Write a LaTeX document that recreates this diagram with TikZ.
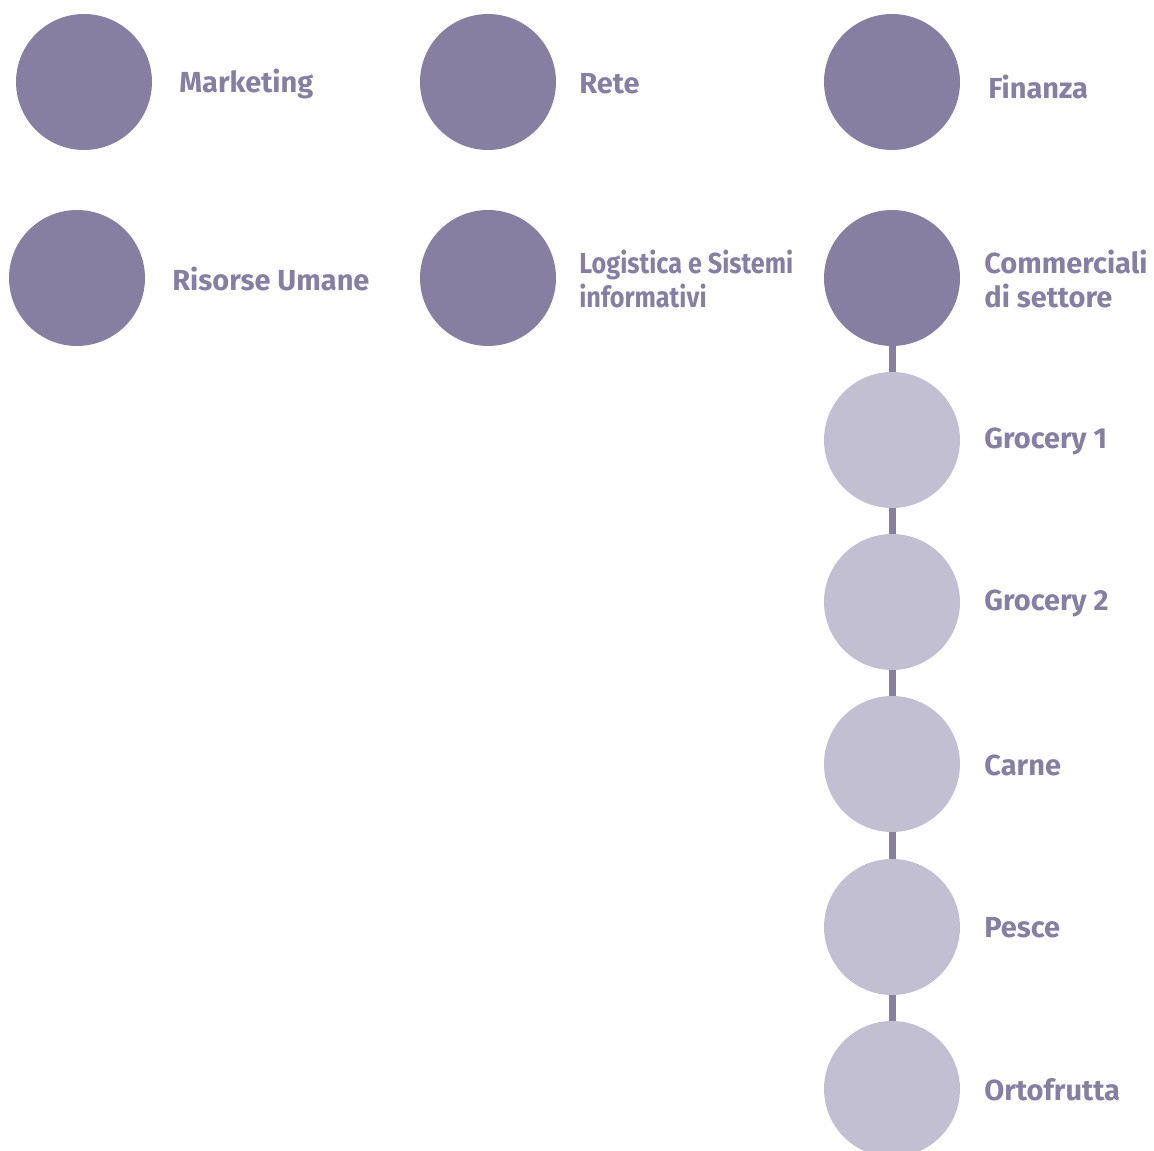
\documentclass[tikz,border=0pt]{standalone}
\usepackage{fontspec}
\setmainfont{Fira Sans}
\newfontfamily\narrowfont[FakeStretch=0.87]{Fira Sans}
\definecolor{areadark}{HTML}{877FA2}
\definecolor{arealight}{HTML}{C3BFD2}

\begin{document}
\begin{tikzpicture}[x = 0.02cm, y = -0.02cm, every node/.style = {inner sep = 0pt}, area/.style = {circle, minimum size = 2.72cm, fill = areadark}, sector/.style = {area, fill = arealight}, label text/.style = {anchor = west, align = left, text = areadark, font = \fontsize{16.5}{18.8}\selectfont\bfseries}]
        \useasboundingbox (0, 0) rectangle (1154, 1151);
        % first two rows
        \node[area] (marketing) at (84, 82) {};
        \node[area] (risorse) at (77, 278) {};
        \node[area] (rete) at (488, 82) {};
        \node[area] (logistica) at (488, 278) {};
        \node[area] (finanza) at (892, 82) {};
        % sectors hanging below
        \draw[areadark, line width = 7pt*0.02/0.0352] (892, 278) -- (892, 1089);
        \node[area] (commerciali) at (892, 278) {};
        \node[sector] (grocery1) at (892, 440) {};
        \node[sector] (grocery2) at (892, 602) {};
        \node[sector] (carne) at (892, 764) {};
        \node[sector] (pesce) at (892, 927) {};
        \node[sector] (ortofrutta) at (892, 1089) {};
        % texts
        \node[label text] (marketingtext) at (179, 84) {Marketing};
        \node[label text] (risorsetext) at (172, 279) {Risorse Umane};
        \node[label text] (retetext) at (579, 84) {Rete};
        \node[label text, font = \fontsize{16.5}{18.8}\selectfont\bfseries\narrowfont] (logisticatext) at (579, 279) {Logistica e Sistemi\\informativi};
        \node[label text] (finanzatext) at (988, 87) {Finanza};
        \node[label text] (commercialitext) at (984, 279) {Commerciali\\di settore};
        \node[label text] (grocery1text) at (984, 441) {Grocery 1};
        \node[label text] (grocery2text) at (984, 603) {Grocery 2};
        \node[label text] (carnetext) at (984, 765) {Carne};
        \node[label text] (pescetext) at (984, 928) {Pesce};
        \node[label text] (ortofruttatext) at (984, 1090) {Ortofrutta};
    \end{tikzpicture}
\end{document}
